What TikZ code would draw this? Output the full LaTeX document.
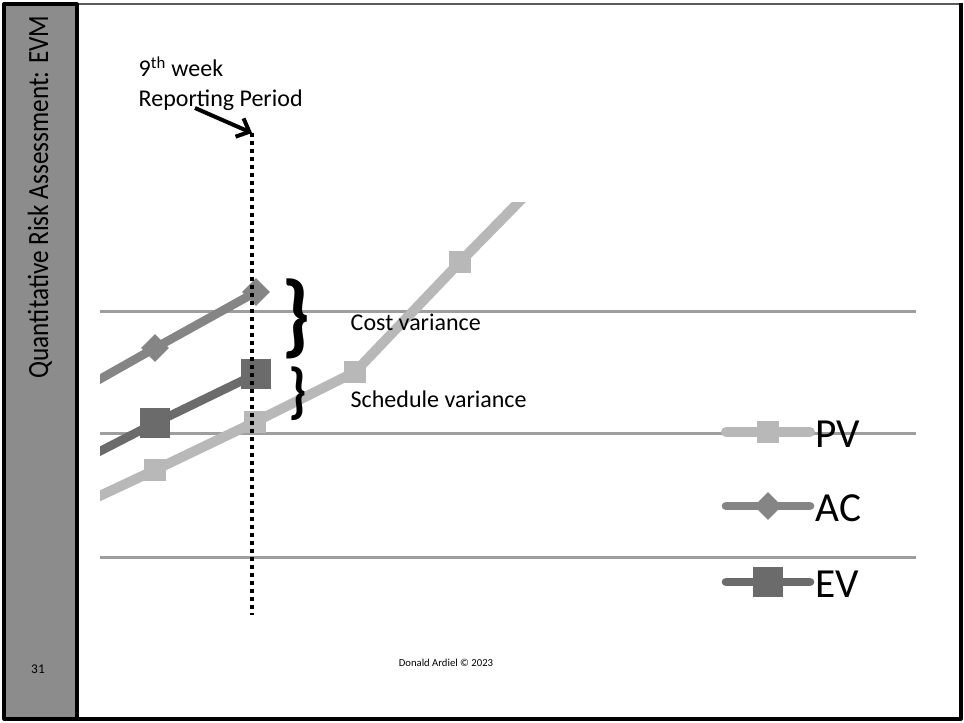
\documentclass[tikz,border=0pt]{standalone}
\usepackage{fontspec}
\setmainfont{Carlito}
\usetikzlibrary{arrows.meta,shapes.geometric}
\definecolor{sidegray}{gray}{0.55}
\definecolor{pvgray}{gray}{0.72}
\definecolor{acgray}{gray}{0.52}
\definecolor{evgray}{gray}{0.42}
\definecolor{gridgray}{gray}{0.62}
\tikzset{
  gridline/.style={gridgray,line width=2.25pt},
  pvline/.style={pvgray,line width=7.5pt},
  acline/.style={acgray,line width=6.5pt},
  evline/.style={evgray,line width=6.5pt},
  pvmark/.style={rectangle,fill=pvgray,inner sep=0pt,minimum size=16.5pt},
  acmark/.style={diamond,fill=acgray,inner sep=0pt,minimum size=21pt},
  evmark/.style={rectangle,fill=evgray,inner sep=0pt,minimum size=23pt},
  brc/.style={inner sep=0pt,font=\bfseries}
}
\begin{document}
\begin{tikzpicture}[x=0.75pt,y=-0.75pt,line join=round,>=Stealth]
	\useasboundingbox (0,0) rectangle (964,723);
	\def\xl{100} \def\xr{916}
	% frame and side bar
	\draw[gray!70!black,line width=0.8pt] (77,4)--(961,4);
	\draw[line width=2.4pt] (961,3)--(961,719)--(77,719);
	\draw[fill=sidegray,line width=2.4pt] (4,4) rectangle (77,719);
	\node[rotate=90,xscale=0.86,font=\fontsize{22}{22}\selectfont] (title) at (40,197) {Quantitative Risk Assessment: EVM};
	\node[font=\fontsize{10}{10}\selectfont] (page) at (38,669) {31};
	\node[font=\fontsize{8}{8}\selectfont] (foot) at (446,663) {Donald Ardiel \textcopyright{} 2023};
	% grid
	\foreach \y in {312,434,557} \draw[gridline] (\xl,\y)--(\xr,\y);
	% data points
	\coordinate (p0) at (40,524); \coordinate (p1) at (155,470);
	\coordinate (p2) at (255,422); \coordinate (p3) at (355,372);
	\coordinate (p4) at (460,262); \coordinate (p5) at (560,160);
	\coordinate (a0) at (40,413); \coordinate (a1) at (155,348);
	\coordinate (a2) at (256,292);
	\coordinate (e0) at (40,482); \coordinate (e1) at (155,423);
	\coordinate (e2) at (256,374);
	\begin{scope}
		\clip (\xl,203) rectangle (964,723);
		\draw[pvline] (p0)--(p1)--(p2)--(p3)--(p4)--(p5);
		\draw[acline] (a0)--(a1)--(a2);
		\draw[evline] (e0)--(e1)--(e2);
		\foreach \i in {1,...,4} \node[pvmark] at (p\i) {};
		\foreach \i in {1,2} {\node[acmark] at (a\i) {}; \node[evmark] at (e\i) {};}
	\end{scope}
	% reporting period
	\coordinate (top) at (252,133); \coordinate (bot) at (252,615);
	\draw[line width=3pt,dash pattern=on 3pt off 3pt] (top)--(bot);
	\node[anchor=base west,align=left,font=\fontsize{18}{22.5}\selectfont] (week) at (134,107) {9\textsuperscript{th} week\\Reporting Period};
	\coordinate (tail) at (195,108);
	\draw[line width=3pt,-{Straight Barb[length=8pt,width=15pt]}] (tail)--(top);
	% variances
	\node[brc] (cvb) at (296,319) {\resizebox{22pt}{50pt}{\}}};
	\node[brc] (svb) at (298,394) {\resizebox{14pt}{33.5pt}{\}}};
	\node[anchor=west,font=\fontsize{18}{18}\selectfont] (cv) at (346,322) {Cost variance};
	\node[anchor=west,font=\fontsize{18}{18}\selectfont] (sv) at (346,399) {Schedule variance};
	% legend
	\foreach \nm/\y/\ln/\mk in {PV/432/pvline/pvmark,AC/506/acline/acmark,EV/582/evline/evmark} {
		\draw[\ln,line cap=round] (726,\y)--(810,\y);
		\node[\mk] at (768,\y) {};
		\node[anchor=west,font=\fontsize{31}{31}\selectfont] (lg\nm) at (811,\y+2) {\nm};
	}
\end{tikzpicture}
\end{document}
